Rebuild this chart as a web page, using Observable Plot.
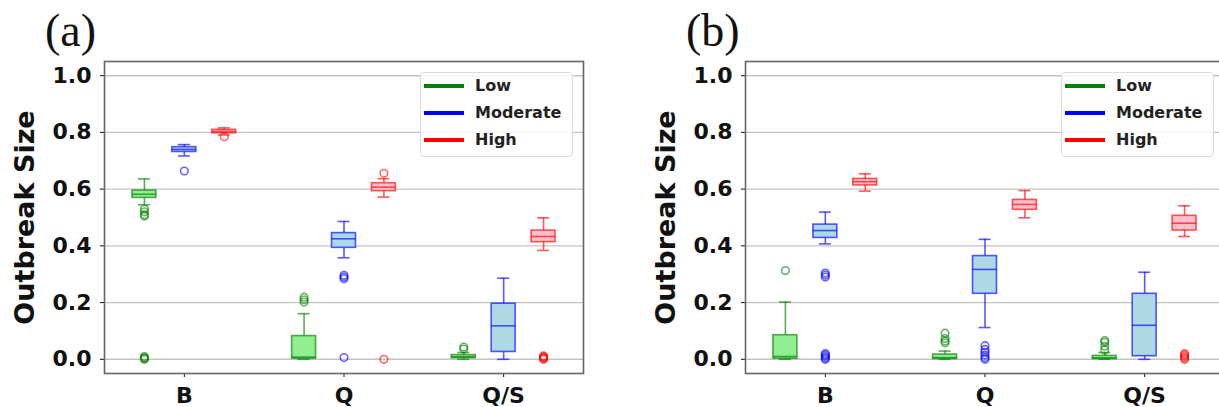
<!DOCTYPE html>
<html>
<head>
<meta charset="utf-8">
<script src="https://cdn.jsdelivr.net/npm/d3@7"></script>
<script src="https://cdn.jsdelivr.net/npm/@observablehq/plot@0.6"></script>
<style>
  html, body { margin: 0; padding: 0; background: white; }
  #wrap { position: relative; width: 1219px; height: 407px; overflow: hidden; background: white; }
  .panel { position: absolute; top: 0; width: 600px; height: 407px; }
  .ptitle { position: absolute; font-family: "Liberation Serif", serif; font-size: 46px; line-height: 46px; color: #111; white-space: nowrap; }
  .legend { position: absolute; width: 153px; height: 85px; box-sizing: border-box; border: 1px solid #dcdcdc; border-radius: 4px; background: rgba(255,255,255,0.85); }
  .legrow { position: absolute; left: 3px; height: 20px; width: 150px; }
  .legline { position: absolute; left: 0; top: 8px; width: 40px; height: 4px; }
  .legtext { position: absolute; left: 51px; top: 0; font-family: "DejaVu Sans", sans-serif; font-weight: bold; font-size: 16px; line-height: 20px; color: #222; white-space: nowrap; }
</style>
</head>
<body>
<div id="wrap"></div>
<script>
// ---- categories / labels ----
const groups = ["B", "Q", "Q/S"];
const levels = ["Low", "Moderate", "High"];
const yTicks = [0, 0.2, 0.4, 0.6, 0.8, 1.0];
const panelTitles = ["(a)", "(b)"];
const yLabel = "Outbreak Size";

// ---- box statistics: [lowWhisker, q1, median, q3, highWhisker] per group B, Q, Q/S ----
const aLow      = [[0.545, 0.569, 0.582, 0.595, 0.636], [0.0, 0.002, 0.008, 0.082, 0.161], [0.0, 0.004, 0.009, 0.015, 0.024]];
const aModerate = [[0.717, 0.731, 0.740, 0.748, 0.757], [0.358, 0.393, 0.425, 0.445, 0.486], [0.0, 0.026, 0.118, 0.196, 0.286]];
const aHigh     = [[0.791, 0.797, 0.803, 0.809, 0.816], [0.572, 0.593, 0.607, 0.621, 0.637], [0.384, 0.413, 0.433, 0.454, 0.499]];
const bLow      = [[0.0, 0.002, 0.010, 0.085, 0.202], [0.0, 0.001, 0.006, 0.017, 0.029], [0.0, 0.001, 0.005, 0.012, 0.024]];
const bModerate = [[0.407, 0.428, 0.454, 0.475, 0.519], [0.112, 0.231, 0.317, 0.364, 0.423], [0.0, 0.011, 0.120, 0.231, 0.307]];
const bHigh     = [[0.593, 0.613, 0.626, 0.636, 0.654], [0.499, 0.527, 0.546, 0.562, 0.595], [0.433, 0.454, 0.480, 0.506, 0.541]];

// ---- outliers per group B, Q, Q/S ----
const aLowOut      = [[0.530, 0.520, 0.510, 0.505, 0.0, 0.003, 0.006, 0.01], [0.219, 0.210, 0.202], [0.043, 0.036]];
const aModerateOut = [[0.664], [0.296, 0.290, 0.284, 0.006], []];
const aHighOut     = [[0.785], [0.656, 0.0], [0.0, 0.003, 0.006, 0.009, 0.012]];
const bLowOut      = [[0.313], [0.092, 0.073, 0.065, 0.058], [0.066, 0.060, 0.046, 0.033]];
const bModerateOut = [[0.304, 0.297, 0.290, 0.0, 0.005, 0.010, 0.015, 0.020], [0.048, 0.035, 0.025, 0.015, 0.006, 0.0], []];
const bHighOut     = [[], [], [0.0, 0.005, 0.010, 0.015, 0.020]];

// ---- styles ----
const strokeColors = ["green", "blue", "red"];
const fillColors = ["lightgreen", "lightblue", "pink"];
const offsets = [-0.25, 0, 0.25];
const boxHalf = 0.075, capHalf = 0.0375;

function buildPanel(stats, outs, left, title) {
  const boxes = [], outliers = [];
  stats.forEach((lv, li) => lv.forEach((s, gi) => {
    const xc = gi + 1 + offsets[li];
    boxes.push({level: levels[li], li, xc, lo: s[0], q1: s[1], med: s[2], q3: s[3], hi: s[4]});
  }));
  outs.forEach((lv, li) => lv.forEach((arr, gi) => arr.forEach(v => {
    outliers.push({level: levels[li], li, xc: gi + 1 + offsets[li], v});
  })));
  const sc = d => strokeColors[d.li];
  const chart = Plot.plot({
    width: 600, height: 407,
    marginLeft: 104, marginRight: 17, marginTop: 61, marginBottom: 34,
    x: {domain: [0.5, 3.5]},
    y: {domain: [-0.05, 1.05]},
    style: {fontFamily: "DejaVu Sans", fontWeight: "bold", fontSize: "22px", color: "#111", background: "transparent", overflow: "visible"},
    marks: [
      Plot.gridY(yTicks, {stroke: "#c4c4c4", strokeOpacity: 1, strokeWidth: 1.4}),
      Plot.axisY(yTicks, {tickSize: 4, tickPadding: 9, tickFormat: d => d.toFixed(1), label: null}),
      Plot.axisX([1, 2, 3], {tickSize: 4, tickPadding: 10, tickFormat: i => groups[i - 1], label: null}),
      Plot.ruleX(boxes, {x: "xc", y1: "lo", y2: "q1", stroke: sc, strokeOpacity: 0.65, strokeWidth: 1.6}),
      Plot.ruleX(boxes, {x: "xc", y1: "q3", y2: "hi", stroke: sc, strokeOpacity: 0.65, strokeWidth: 1.6}),
      Plot.ruleY(boxes, {y: "lo", x1: d => d.xc - capHalf, x2: d => d.xc + capHalf, stroke: sc, strokeOpacity: 0.65, strokeWidth: 1.6}),
      Plot.ruleY(boxes, {y: "hi", x1: d => d.xc - capHalf, x2: d => d.xc + capHalf, stroke: sc, strokeOpacity: 0.65, strokeWidth: 1.6}),
      Plot.rect(boxes, {x1: d => d.xc - boxHalf, x2: d => d.xc + boxHalf, y1: "q1", y2: "q3", fill: d => fillColors[d.li], stroke: sc, strokeOpacity: 0.65, strokeWidth: 1.6}),
      Plot.ruleY(boxes, {y: "med", x1: d => d.xc - boxHalf, x2: d => d.xc + boxHalf, stroke: sc, strokeOpacity: 0.65, strokeWidth: 1.6}),
      Plot.dot(outliers, {x: "xc", y: "v", r: 3.8, fill: "none", stroke: sc, strokeOpacity: 0.6, strokeWidth: 1.6}),
      Plot.frame({stroke: "#666", strokeWidth: 1.6}),
      Plot.text([yLabel], {frameAnchor: "left", dx: -79, rotate: -90, textAnchor: "middle", lineAnchor: "middle", fontSize: 27, fontWeight: "bold", fill: "#111"})
    ]
  });
  const div = document.createElement("div");
  div.className = "panel";
  div.style.left = left + "px";
  div.appendChild(chart);
  const t = document.createElement("div");
  t.className = "ptitle";
  t.textContent = title;
  t.style.left = "45px";
  t.style.top = "8px";
  div.appendChild(t);
  const leg = document.createElement("div");
  leg.className = "legend";
  leg.style.left = "420px";
  leg.style.top = "72px";
  levels.forEach((name, i) => {
    const row = document.createElement("div");
    row.className = "legrow";
    row.style.top = (3 + i * 27) + "px";
    const ln = document.createElement("div");
    ln.className = "legline";
    ln.style.background = strokeColors[i];
    const tx = document.createElement("div");
    tx.className = "legtext";
    tx.textContent = name;
    row.appendChild(ln); row.appendChild(tx);
    leg.appendChild(row);
  });
  div.appendChild(leg);
  document.getElementById("wrap").appendChild(div);
}

buildPanel([aLow, aModerate, aHigh], [aLowOut, aModerateOut, aHighOut], 0, panelTitles[0]);
buildPanel([bLow, bModerate, bHigh], [bLowOut, bModerateOut, bHighOut], 641, panelTitles[1]);
</script>
</body>
</html>
